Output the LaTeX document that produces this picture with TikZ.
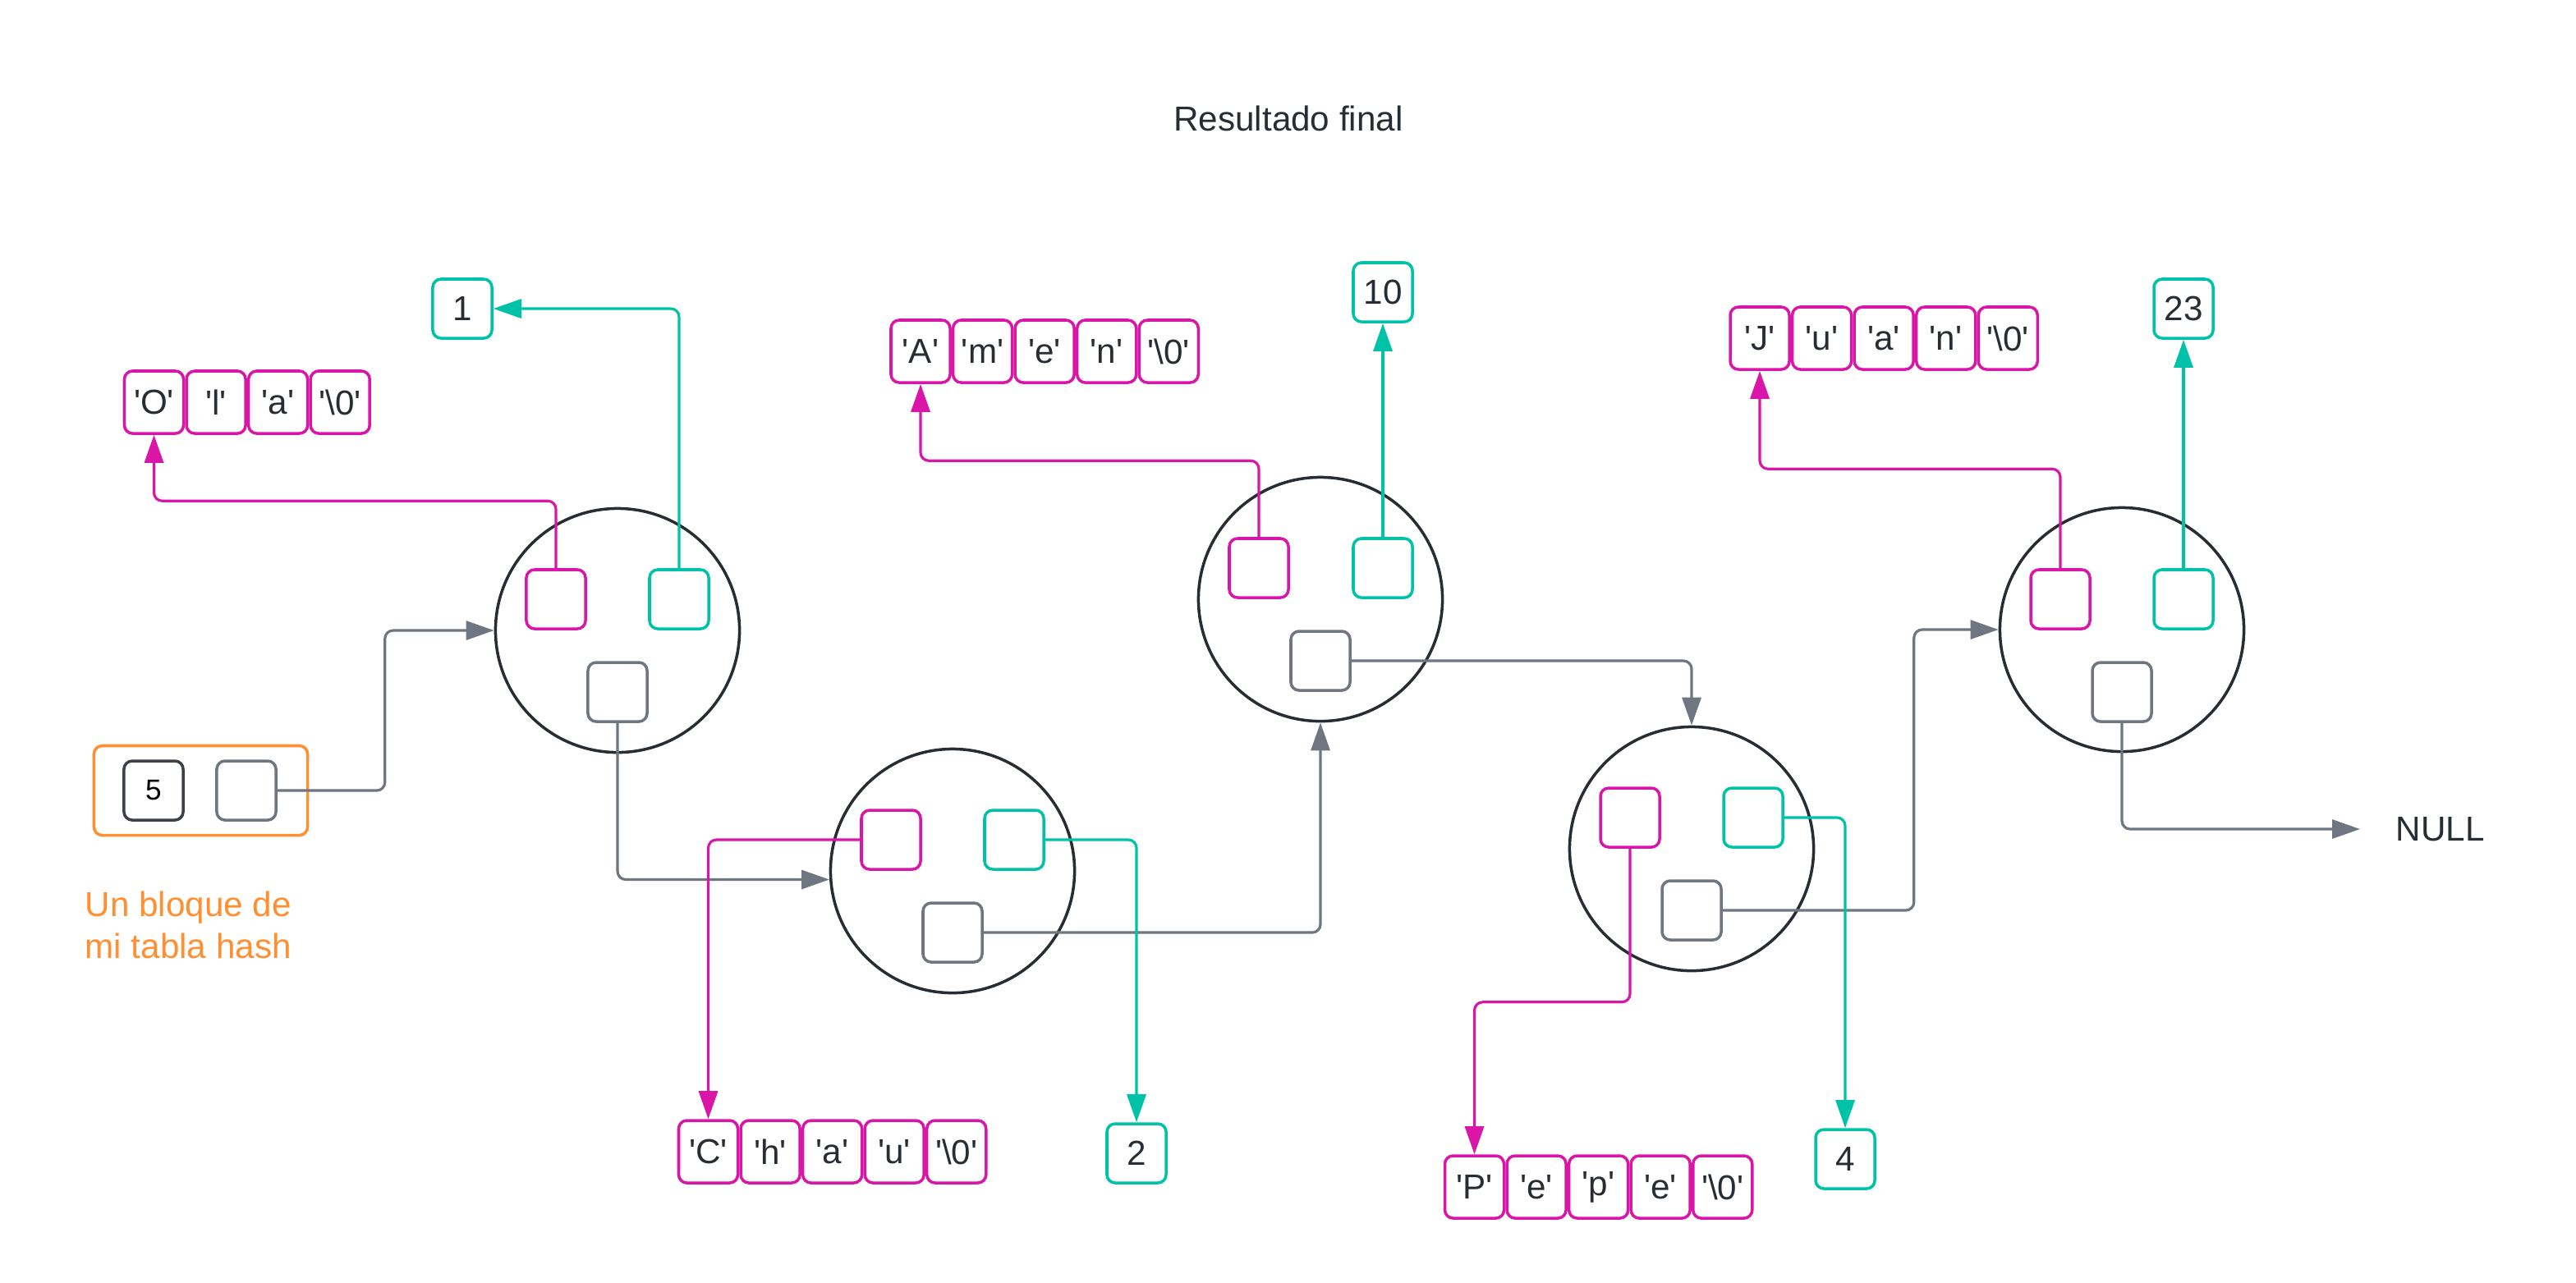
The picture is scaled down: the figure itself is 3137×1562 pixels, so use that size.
\documentclass[tikz,border=0pt]{standalone}
\usepackage{fontspec}
\setmainfont{Liberation Sans}
\usepackage{xcolor}
\usetikzlibrary{positioning, arrows.meta}

\definecolor{ptrcol}{HTML}{D916A8}
\definecolor{valcol}{HTML}{00C2A8}
\definecolor{nextcol}{HTML}{6F7681}
\definecolor{ringcol}{HTML}{282C33}
\definecolor{hashcol}{HTML}{FF8F33}
\definecolor{txtcol}{HTML}{282C33}

\newcommand{\cq}[1]{\textquotesingle#1\textquotesingle}

\tikzset{
    txt/.style={text=txtcol, font=\fontsize{12}{14.4}\selectfont},
    ring/.style={circle, draw=ringcol, line width=1pt, minimum size=2.97cm, inner sep=0pt},
    ptrbox/.style={rectangle, rounded corners=0.1cm, draw=ptrcol, line width=1pt, minimum size=0.72cm, inner sep=0pt},
    valbox/.style={rectangle, rounded corners=0.1cm, draw=valcol, line width=1pt, minimum size=0.72cm, inner sep=0pt, txt},
    nextbox/.style={rectangle, rounded corners=0.1cm, draw=nextcol, line width=1pt, minimum size=0.72cm, inner sep=0pt},
    cell/.style={rectangle, rounded corners=0.1cm, draw=ptrcol, line width=1pt, minimum width=0.72cm, minimum height=0.76cm, inner sep=0pt, txt},
    tip/.style={-{Triangle[length=0.34cm, width=0.23cm]}},
    ptrline/.style={draw=ptrcol, line width=0.9pt, rounded corners=0.1cm, tip},
    valline/.style={draw=valcol, line width=0.9pt, rounded corners=0.1cm, tip},
    nextline/.style={draw=nextcol, line width=0.9pt, rounded corners=0.1cm, tip}
}

\begin{document}
\begin{tikzpicture}[x=0.01cm, y=-0.01cm]
        \useasboundingbox (0, 0) rectangle (3137, 1562);

        \node[txt] at (1569, 144) (title) {Resultado final};

        % bloque de la tabla hash
        \node[rectangle, rounded corners=0.1cm, draw=hashcol, line width=1pt, minimum width=2.6cm, minimum height=1.09cm] at (244.5, 963) (hash) {};
        \node[rectangle, rounded corners=0.1cm, draw=ringcol!90, line width=1pt, minimum size=0.72cm, inner sep=0pt, font=\fontsize{10}{12}\selectfont] at (187, 963) (h5) {5};
        \node[nextbox] at (300, 963) (hptr) {};
        \node[txt, text=hashcol, anchor=west, align=left, inner sep=0pt] at (103, 1127) (hashlabel) {Un bloque de\\mi tabla hash};

        % nodos de la lista
        \node[ring] at (752, 768) (n1) {};
        \node[ring] at (1160, 1061) (n2) {};
        \node[ring] at (1608, 730) (n3) {};
        \node[ring] at (2060, 1034) (n4) {};
        \node[ring] at (2584, 767) (n5) {};

        \node[ptrbox] at (677, 730) (n1p) {};
        \node[valbox] at (827, 730) (n1v) {};
        \node[nextbox] at (752, 843) (n1s) {};

        \node[ptrbox] at (1085, 1023) (n2p) {};
        \node[valbox] at (1235, 1023) (n2v) {};
        \node[nextbox] at (1160, 1136) (n2s) {};

        \node[ptrbox] at (1533, 692) (n3p) {};
        \node[valbox] at (1684, 692) (n3v) {};
        \node[nextbox] at (1608, 805) (n3s) {};

        \node[ptrbox] at (1985, 996) (n4p) {};
        \node[valbox] at (2135, 996) (n4v) {};
        \node[nextbox] at (2060, 1109) (n4s) {};

        \node[ptrbox] at (2509, 730) (n5p) {};
        \node[valbox] at (2659, 730) (n5v) {};
        \node[nextbox] at (2584, 843) (n5s) {};

        % valores
        \node[valbox] at (563, 376) (val1) {1};
        \node[valbox] at (1384, 1405) (val2) {2};
        \node[valbox] at (1684, 356) (val10) {10};
        \node[valbox] at (2247, 1412) (val4) {4};
        \node[valbox] at (2659, 376) (val23) {23};

        % cadenas
        \node[cell] at (187.5, 490) (ola1) {\cq{O}};
        \node[cell, right=0pt of ola1] (ola2) {\cq{l}};
        \node[cell, right=0pt of ola2] (ola3) {\cq{a}};
        \node[cell, right=0pt of ola3] (ola4) {\cq{\textbackslash 0}};

        \node[cell] at (862.5, 1403) (ch1) {\cq{C}};
        \node[cell, right=0pt of ch1] (ch2) {\cq{h}};
        \node[cell, right=0pt of ch2] (ch3) {\cq{a}};
        \node[cell, right=0pt of ch3] (ch4) {\cq{u}};
        \node[cell, right=0pt of ch4] (ch5) {\cq{\textbackslash 0}};

        \node[cell] at (1121, 428) (am1) {\cq{A}};
        \node[cell, right=0pt of am1] (am2) {\cq{m}};
        \node[cell, right=0pt of am2] (am3) {\cq{e}};
        \node[cell, right=0pt of am3] (am4) {\cq{n}};
        \node[cell, right=0pt of am4] (am5) {\cq{\textbackslash 0}};

        \node[cell] at (1795.5, 1446) (pe1) {\cq{P}};
        \node[cell, right=0pt of pe1] (pe2) {\cq{e}};
        \node[cell, right=0pt of pe2] (pe3) {\cq{p}};
        \node[cell, right=0pt of pe3] (pe4) {\cq{e}};
        \node[cell, right=0pt of pe4] (pe5) {\cq{\textbackslash 0}};

        \node[cell] at (2143, 412) (ju1) {\cq{J}};
        \node[cell, right=0pt of ju1] (ju2) {\cq{u}};
        \node[cell, right=0pt of ju2] (ju3) {\cq{a}};
        \node[cell, right=0pt of ju3] (ju4) {\cq{n}};
        \node[cell, right=0pt of ju4] (ju5) {\cq{\textbackslash 0}};

        \node[txt, anchor=west, inner sep=0pt] at (2917, 1010) (null) {NULL};

        % punteros
        \draw[nextline] (hptr.east) -- ++(131, 0) |- (n1.west);
        \draw[nextline] (n1s.south) |- (n2.184);
        \draw[nextline] (n2s.east) -| (n3.south);
        \draw[nextline] (n3s.east) -| (n4.north);
        \draw[nextline] (n4s.east) -- ++(233, 0) |- (n5.west);
        \draw[nextline] (n5s.south) |- ([xshift=-0.43cm]null.west);

        \draw[ptrline] (n1p.north) -- ++(0, -82) -| (ola1.south);
        \draw[ptrline] (n2p.west) -| (ch1.north);
        \draw[ptrline] (n3p.north) -- ++(0, -93) -| (am1.south);
        \draw[ptrline] (n4p.south) -- ++(0, 187) -| (pe1.north);
        \draw[ptrline] (n5p.north) -- ++(0, -121) -| (ju1.south);

        \draw[valline] (n1v.north) |- (val1.east);
        \draw[valline] (n2v.east) -| (val2.north);
        \draw[valline] (n3v.north) -- (val10.south);
        \draw[valline] (n4v.east) -| (val4.north);
        \draw[valline] (n5v.north) -- (val23.south);
    \end{tikzpicture}
\end{document}
